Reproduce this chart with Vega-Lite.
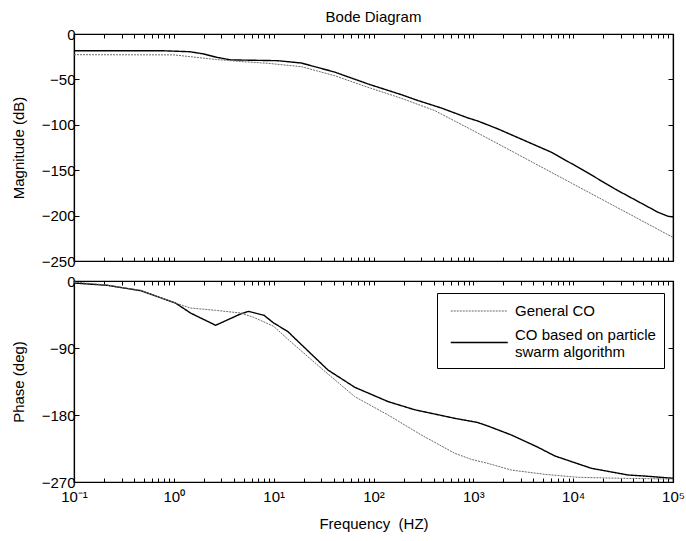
{
  "$schema": "https://vega.github.io/schema/vega-lite/v6.json",
  "background": "white",
  "padding": {"left": 10, "top": 9, "right": 5, "bottom": 5},
  "config": {
    "font": "Liberation Sans",
    "view": {"stroke": "black", "strokeWidth": 1.2},
    "axis": {
      "grid": false,
      "domainColor": "black",
      "domainWidth": 1.2,
      "tickColor": "black",
      "labelColor": "black",
      "titleColor": "black",
      "labelFont": "Liberation Sans",
      "titleFont": "Liberation Sans",
      "labelFontSize": 15,
      "titleFontSize": 15,
      "titleFontWeight": "normal",
      "labelFlush": false
    },
    "title": {"font": "Liberation Sans", "fontSize": 15, "fontWeight": "normal", "color": "black"}
  },
  "resolve": {"scale": {"color": "independent", "strokeDash": "independent", "strokeWidth": "independent"}},
  "datasets": {
    "mag": [
      {"f": 0.1, "series": "CO based on particle swarm algorithm", "v": -18.5},
      {"f": 0.8, "series": "CO based on particle swarm algorithm", "v": -18.5},
      {"f": 1.44, "series": "CO based on particle swarm algorithm", "v": -19.5},
      {"f": 2.0, "series": "CO based on particle swarm algorithm", "v": -22},
      {"f": 2.64, "series": "CO based on particle swarm algorithm", "v": -25.5},
      {"f": 3.7, "series": "CO based on particle swarm algorithm", "v": -28.5},
      {"f": 11, "series": "CO based on particle swarm algorithm", "v": -29.4},
      {"f": 19, "series": "CO based on particle swarm algorithm", "v": -32},
      {"f": 41, "series": "CO based on particle swarm algorithm", "v": -42},
      {"f": 88, "series": "CO based on particle swarm algorithm", "v": -55},
      {"f": 190, "series": "CO based on particle swarm algorithm", "v": -66.8},
      {"f": 281, "series": "CO based on particle swarm algorithm", "v": -73.4},
      {"f": 478, "series": "CO based on particle swarm algorithm", "v": -81.5},
      {"f": 887, "series": "CO based on particle swarm algorithm", "v": -92.5},
      {"f": 1120, "series": "CO based on particle swarm algorithm", "v": -96},
      {"f": 1770, "series": "CO based on particle swarm algorithm", "v": -104.6},
      {"f": 6070, "series": "CO based on particle swarm algorithm", "v": -130.3},
      {"f": 13100, "series": "CO based on particle swarm algorithm", "v": -151},
      {"f": 26200, "series": "CO based on particle swarm algorithm", "v": -170.7},
      {"f": 71000, "series": "CO based on particle swarm algorithm", "v": -196.4},
      {"f": 89500, "series": "CO based on particle swarm algorithm", "v": -200.8},
      {"f": 100000, "series": "CO based on particle swarm algorithm", "v": -201.5},
      {"f": 0.1, "series": "General CO", "v": -22.8},
      {"f": 1.0, "series": "General CO", "v": -23},
      {"f": 2.6, "series": "General CO", "v": -28},
      {"f": 5, "series": "General CO", "v": -30.5},
      {"f": 8.8, "series": "General CO", "v": -32.3},
      {"f": 19, "series": "General CO", "v": -36},
      {"f": 41, "series": "General CO", "v": -46},
      {"f": 88, "series": "General CO", "v": -58.7},
      {"f": 190, "series": "General CO", "v": -70.8},
      {"f": 411, "series": "General CO", "v": -84.4},
      {"f": 887, "series": "General CO", "v": -103.5},
      {"f": 1770, "series": "General CO", "v": -121},
      {"f": 10000, "series": "General CO", "v": -165.2},
      {"f": 100000, "series": "General CO", "v": -224}
    ],
    "phase": [
      {"f": 0.1, "series": "CO based on particle swarm algorithm", "v": -2.7},
      {"f": 0.215, "series": "CO based on particle swarm algorithm", "v": -5.8},
      {"f": 0.466, "series": "CO based on particle swarm algorithm", "v": -13},
      {"f": 1.04, "series": "CO based on particle swarm algorithm", "v": -29.6},
      {"f": 1.47, "series": "CO based on particle swarm algorithm", "v": -43},
      {"f": 2.62, "series": "CO based on particle swarm algorithm", "v": -59.5},
      {"f": 4.66, "series": "CO based on particle swarm algorithm", "v": -44.3},
      {"f": 5.6, "series": "CO based on particle swarm algorithm", "v": -40.8},
      {"f": 7.98, "series": "CO based on particle swarm algorithm", "v": -46},
      {"f": 10, "series": "CO based on particle swarm algorithm", "v": -56.4},
      {"f": 13.9, "series": "CO based on particle swarm algorithm", "v": -68},
      {"f": 16, "series": "CO based on particle swarm algorithm", "v": -76},
      {"f": 35, "series": "CO based on particle swarm algorithm", "v": -119.6},
      {"f": 65, "series": "CO based on particle swarm algorithm", "v": -142.8},
      {"f": 140, "series": "CO based on particle swarm algorithm", "v": -162},
      {"f": 259, "series": "CO based on particle swarm algorithm", "v": -173},
      {"f": 653, "series": "CO based on particle swarm algorithm", "v": -184.5},
      {"f": 1100, "series": "CO based on particle swarm algorithm", "v": -190},
      {"f": 1400, "series": "CO based on particle swarm algorithm", "v": -194.8},
      {"f": 2410, "series": "CO based on particle swarm algorithm", "v": -206.9},
      {"f": 4450, "series": "CO based on particle swarm algorithm", "v": -223.4},
      {"f": 6550, "series": "CO based on particle swarm algorithm", "v": -235},
      {"f": 15200, "series": "CO based on particle swarm algorithm", "v": -251.6},
      {"f": 35500, "series": "CO based on particle swarm algorithm", "v": -260.6},
      {"f": 52000, "series": "CO based on particle swarm algorithm", "v": -262},
      {"f": 100000, "series": "CO based on particle swarm algorithm", "v": -265},
      {"f": 0.1, "series": "General CO", "v": -1.5},
      {"f": 0.215, "series": "General CO", "v": -5.5},
      {"f": 0.466, "series": "General CO", "v": -12.5},
      {"f": 1.04, "series": "General CO", "v": -29.6},
      {"f": 1.47, "series": "General CO", "v": -36.3},
      {"f": 2.62, "series": "General CO", "v": -39.4},
      {"f": 4.66, "series": "General CO", "v": -43},
      {"f": 6.3, "series": "General CO", "v": -48.8},
      {"f": 10, "series": "General CO", "v": -60.9},
      {"f": 13.9, "series": "General CO", "v": -78.3},
      {"f": 30, "series": "General CO", "v": -117.3},
      {"f": 65, "series": "General CO", "v": -155.4},
      {"f": 140, "series": "General CO", "v": -180},
      {"f": 302, "series": "General CO", "v": -206.9},
      {"f": 653, "series": "General CO", "v": -231.5},
      {"f": 955, "series": "General CO", "v": -239.6},
      {"f": 1400, "series": "General CO", "v": -245},
      {"f": 2410, "series": "General CO", "v": -254},
      {"f": 5200, "series": "General CO", "v": -259.7},
      {"f": 11200, "series": "General CO", "v": -263.7},
      {"f": 30000, "series": "General CO", "v": -265},
      {"f": 100000, "series": "General CO", "v": -266}
    ]
  },
  "vconcat": [
    {
      "title": {"text": "Bode Diagram", "anchor": "middle", "frame": "group", "offset": 2},
      "width": 599,
      "height": 227,
      "data": {"name": "mag"},
      "layer": [
        {
          "mark": {"type": "line", "clip": true},
          "encoding": {
            "x": {"field": "f", "type": "quantitative",
              "scale": {"type": "log", "domain": [0.1, 100000], "nice": false},
              "axis": {"orient": "bottom", "title": null, "labels": false, "tickSize": -4,
                "values": [0.1,0.2,0.3,0.4,0.5,0.6,0.7,0.8,0.9,1,2,3,4,5,6,7,8,9,10,20,30,40,50,60,70,80,90,100,200,300,400,500,600,700,800,900,1000,2000,3000,4000,5000,6000,7000,8000,9000,10000,20000,30000,40000,50000,60000,70000,80000,90000,100000]}},
            "y": {"field": "v", "type": "quantitative",
              "scale": {"domain": [-250, 0], "nice": false},
              "axis": {"orient": "left", "title": "Magnitude (dB)", "values": [-250,-200,-150,-100,-50,0], "tickSize": -5, "labelPadding": 4, "titlePadding": 15}},
            "color": {"field": "series", "type": "nominal",
              "scale": {"domain": ["General CO", "CO based on particle swarm algorithm"], "range": ["#6a6a6a", "black"]},
              "legend": null},
            "strokeDash": {"field": "series", "type": "nominal",
              "scale": {"domain": ["General CO", "CO based on particle swarm algorithm"], "range": [[2, 1], [1, 0]]},
              "legend": null},
            "strokeWidth": {"field": "series", "type": "nominal",
              "scale": {"domain": ["General CO", "CO based on particle swarm algorithm"], "range": [1, 1.4]},
              "legend": null}
          }
        },
        {
          "mark": {"type": "line", "opacity": 0},
          "encoding": {
            "x": {"field": "f", "type": "quantitative",
              "scale": {"type": "log", "domain": [0.1, 100000], "nice": false},
              "axis": {"orient": "top", "title": null, "labels": false, "tickSize": -4,
                "values": [0.1,0.2,0.3,0.4,0.5,0.6,0.7,0.8,0.9,1,2,3,4,5,6,7,8,9,10,20,30,40,50,60,70,80,90,100,200,300,400,500,600,700,800,900,1000,2000,3000,4000,5000,6000,7000,8000,9000,10000,20000,30000,40000,50000,60000,70000,80000,90000,100000]}},
            "y": {"field": "v", "type": "quantitative",
              "scale": {"domain": [-250, 0], "nice": false},
              "axis": {"orient": "right", "title": null, "labels": false, "values": [-250,-200,-150,-100,-50,0], "tickSize": -5}},
            "detail": {"field": "series"}
          }
        }
      ],
      "resolve": {"axis": {"x": "independent", "y": "independent"}}
    },
    {
      "width": 599,
      "height": 201,
      "data": {"name": "phase"},
      "layer": [
        {
          "mark": {"type": "line", "clip": true},
          "encoding": {
            "x": {"field": "f", "type": "quantitative",
              "scale": {"type": "log", "domain": [0.1, 100000], "nice": false},
              "axis": {"orient": "bottom", "title": "Frequency\u00a0\u00a0(HZ)", "tickSize": -4, "labelPadding": 11, "titlePadding": 12,
                "labelExpr": "datum.value == 0.1 ? '10\u207b\u00b9' : datum.value == 1 ? '10\u2070' : datum.value == 10 ? '10\u00b9' : datum.value == 100 ? '10\u00b2' : datum.value == 1000 ? '10\u00b3' : datum.value == 10000 ? '10\u2074' : datum.value == 100000 ? '10\u2075' : ''",
                "values": [0.1,0.2,0.3,0.4,0.5,0.6,0.7,0.8,0.9,1,2,3,4,5,6,7,8,9,10,20,30,40,50,60,70,80,90,100,200,300,400,500,600,700,800,900,1000,2000,3000,4000,5000,6000,7000,8000,9000,10000,20000,30000,40000,50000,60000,70000,80000,90000,100000]}},
            "y": {"field": "v", "type": "quantitative",
              "scale": {"domain": [-270, 0], "nice": false},
              "axis": {"orient": "left", "title": "Phase (deg)", "values": [-270,-180,-90,0], "tickSize": -5, "labelPadding": 4, "titlePadding": 15}},
            "color": {"field": "series", "type": "nominal",
              "scale": {"domain": ["General CO", "CO based on particle swarm algorithm"], "range": ["#6a6a6a", "black"]},
              "legend": {"title": null, "orient": "none", "legendX": 363, "legendY": 12,
                "strokeColor": "black", "fillColor": "white", "padding": 8,
                "symbolType": "M-0.5,0H5.5", "symbolSize": 361, "symbolStrokeWidth": 1.2,
                "labelFontSize": 15, "labelFont": "Liberation Sans", "labelColor": "black", "labelLimit": 400, "labelOffset": 49, "rowPadding": 8,
                "labelExpr": "datum.label == 'CO based on particle swarm algorithm' ? ['CO based on particle', 'swarm algorithm'] : datum.label",
                "encode": {"labels": {"update": {"dy": {"signal": "datum.value == 'CO based on particle swarm algorithm' ? -8 : 0"}}}}}},
            "strokeDash": {"field": "series", "type": "nominal",
              "scale": {"domain": ["General CO", "CO based on particle swarm algorithm"], "range": [[2, 1], [1, 0]]},
              "legend": {"title": null, "orient": "none", "legendX": 363, "legendY": 12,
                "strokeColor": "black", "fillColor": "white", "padding": 8,
                "symbolType": "M-0.5,0H5.5", "symbolSize": 361, "symbolStrokeWidth": 1.2,
                "labelFontSize": 15, "labelFont": "Liberation Sans", "labelColor": "black", "labelLimit": 400, "labelOffset": 49, "rowPadding": 8,
                "labelExpr": "datum.label == 'CO based on particle swarm algorithm' ? ['CO based on particle', 'swarm algorithm'] : datum.label",
                "encode": {"labels": {"update": {"dy": {"signal": "datum.value == 'CO based on particle swarm algorithm' ? -8 : 0"}}}}}},
            "strokeWidth": {"field": "series", "type": "nominal",
              "scale": {"domain": ["General CO", "CO based on particle swarm algorithm"], "range": [1, 1.4]},
              "legend": null}
          }
        },
        {
          "mark": {"type": "line", "opacity": 0},
          "encoding": {
            "x": {"field": "f", "type": "quantitative",
              "scale": {"type": "log", "domain": [0.1, 100000], "nice": false},
              "axis": {"orient": "top", "title": null, "labels": false, "tickSize": -4,
                "values": [0.1,0.2,0.3,0.4,0.5,0.6,0.7,0.8,0.9,1,2,3,4,5,6,7,8,9,10,20,30,40,50,60,70,80,90,100,200,300,400,500,600,700,800,900,1000,2000,3000,4000,5000,6000,7000,8000,9000,10000,20000,30000,40000,50000,60000,70000,80000,90000,100000]}},
            "y": {"field": "v", "type": "quantitative",
              "scale": {"domain": [-270, 0], "nice": false},
              "axis": {"orient": "right", "title": null, "labels": false, "values": [-270,-180,-90,0], "tickSize": -5}},
            "detail": {"field": "series"}
          }
        }
      ],
      "resolve": {"axis": {"x": "independent", "y": "independent"}}
    }
  ],
  "spacing": 3
}
